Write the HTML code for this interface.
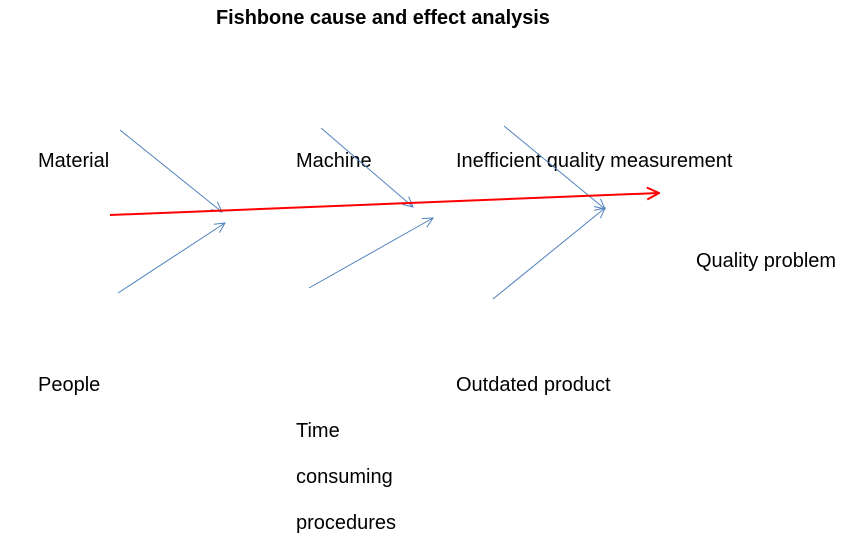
<!DOCTYPE html>
<html><head><style>
body{margin:0;background:#fff;width:865px;height:538px;overflow:hidden;position:relative;font-family:"Liberation Sans",Arial,sans-serif}
.t{position:absolute;font-size:20px;color:#000;white-space:nowrap;line-height:1}
</style></head><body>
<div class="t" style="left:216px;top:9px;font-weight:bold;font-size:19.9px">Fishbone cause and effect analysis</div>
<div class="t" style="left:38px;top:151px">Material</div>
<div class="t" style="left:296px;top:151px">Machine</div>
<div class="t" style="left:456px;top:151px">Inefficient quality measurement</div>
<div class="t" style="left:696px;top:251px">Quality problem</div>
<div class="t" style="left:38px;top:375px">People</div>
<div class="t" style="left:456px;top:375px">Outdated product</div>
<div class="t" style="left:296px;top:421px">Time</div>
<div class="t" style="left:296px;top:467px">consuming</div>
<div class="t" style="left:296px;top:513px">procedures</div>
<svg width="865" height="538" style="position:absolute;left:0;top:0">
<defs>
<marker id="b" markerWidth="12" markerHeight="12" refX="11" refY="6" orient="auto" markerUnits="userSpaceOnUse"><path d="M1,1 L11,6 L1,11" fill="none" stroke="#4f81bd" stroke-width="1"/></marker>
<marker id="r" markerWidth="14" markerHeight="14" refX="13" refY="7" orient="auto" markerUnits="userSpaceOnUse"><path d="M1,1 L13,7 L1,13" fill="none" stroke="#ff0000" stroke-width="2"/></marker>
</defs>
<g stroke="#4f81bd" stroke-width="1" fill="none">
<line x1="120" y1="130" x2="222" y2="212" marker-end="url(#b)"/>
<line x1="118" y1="293" x2="225" y2="223" marker-end="url(#b)"/>
<line x1="321" y1="128" x2="413" y2="207" marker-end="url(#b)"/>
<line x1="309" y1="288" x2="433" y2="218" marker-end="url(#b)"/>
<line x1="504" y1="126" x2="605" y2="209" marker-end="url(#b)"/>
<line x1="493" y1="299" x2="605" y2="208" marker-end="url(#b)"/>
</g>
<line x1="110" y1="215" x2="659" y2="193" stroke="#ff0000" stroke-width="2" marker-end="url(#r)"/>
</svg>
</body></html>
